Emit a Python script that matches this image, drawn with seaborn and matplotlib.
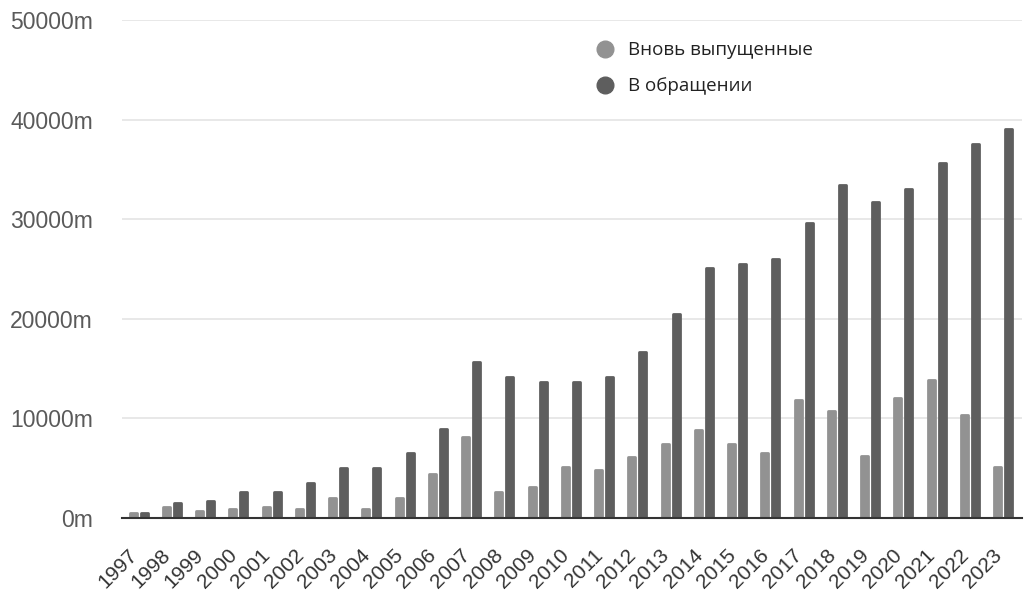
import matplotlib
matplotlib.use("Agg")
import matplotlib.pyplot as plt
from matplotlib.lines import Line2D
from matplotlib.transforms import ScaledTranslation
import seaborn as sns
import pandas as pd

years = [str(y) for y in range(1997, 2024)]
new_issued = [500, 1100, 700, 900, 1100, 900, 2000, 900, 2000, 4400, 8100,
              2600, 3100, 5100, 4800, 6100, 7400, 8800, 7400, 6500, 11800,
              10700, 6200, 12000, 13900, 10300, 5100]
in_circulation = [500, 1500, 1700, 2600, 2600, 3500, 5000, 5000, 6500, 8900, 15700,
                  14200, 13700, 13700, 14200, 16700, 20500, 25100, 25500, 26000, 29600,
                  33400, 31700, 33000, 35600, 37600, 39100]
series_names = ["Вновь выпущенные", "В обращении"]
y_ticks = [0, 10000, 20000, 30000, 40000, 50000]
y_tick_labels = [f"{v}m" for v in y_ticks]

colors = ["#929292", "#5e5e5e"]

df = pd.DataFrame({
    "year": years * 2,
    "value": new_issued + in_circulation,
    "series": [series_names[0]] * len(years) + [series_names[1]] * len(years),
})

sns.set_style("white")
plt.rcParams["font.family"] = ["Liberation Sans", "DejaVu Sans"]

fig = plt.figure(figsize=(10.28, 5.97), dpi=100)
ax = fig.add_axes([0.1187, 0.1323, 0.875, 0.8342])

sns.barplot(data=df, x="year", y="value", hue="series", palette=colors,
            width=0.66, gap=0.36, ax=ax, legend=False, saturation=1)

# soften the bar corners
for p in ax.patches:
    p.set_edgecolor(p.get_facecolor())
    p.set_linewidth(2.0)
    p.set_joinstyle("round")

ax.set_ylim(0, 50000)
ax.set_xlim(-0.5, len(years) - 0.45)
ax.set_yticks(y_ticks)
ax.set_yticklabels(y_tick_labels, fontsize=16.5, color="#5a5a5a")
ax.yaxis.grid(True, color="#e6e6e6", linewidth=1.3)
ax.set_axisbelow(True)
ax.tick_params(axis="y", length=0, pad=21)
ax.tick_params(axis="x", length=0, pad=20)
ax.set_xticks(range(len(years)))
ax.set_xticklabels(years, rotation=45, ha="right", rotation_mode="anchor",
                   fontsize=15, color="#333333")
# pull the slanted labels so their ends sit under each year group
shift = ScaledTranslation(-8 / 72, 0, fig.dpi_scale_trans)
for lbl in ax.get_xticklabels():
    lbl.set_transform(lbl.get_transform() + shift)
ax.set_xlabel("")
ax.set_ylabel("")
for side in ["top", "right", "left"]:
    ax.spines[side].set_visible(False)
ax.spines["bottom"].set_color("#333333")
ax.spines["bottom"].set_linewidth(1.5)

handles = [Line2D([], [], marker="o", linestyle="", markersize=12,
                  markerfacecolor=c, markeredgecolor=c) for c in colors]
ax.legend(handles, series_names, loc="upper left", bbox_to_anchor=(0.516, 0.976),
          frameon=False, prop={"family": ["Open Sans", "DejaVu Sans"], "size": 13.5},
          borderpad=0, handlelength=1.0, labelspacing=0.95, handletextpad=0.73,
          labelcolor="#222222")

fig.savefig("out.png", dpi=100)
